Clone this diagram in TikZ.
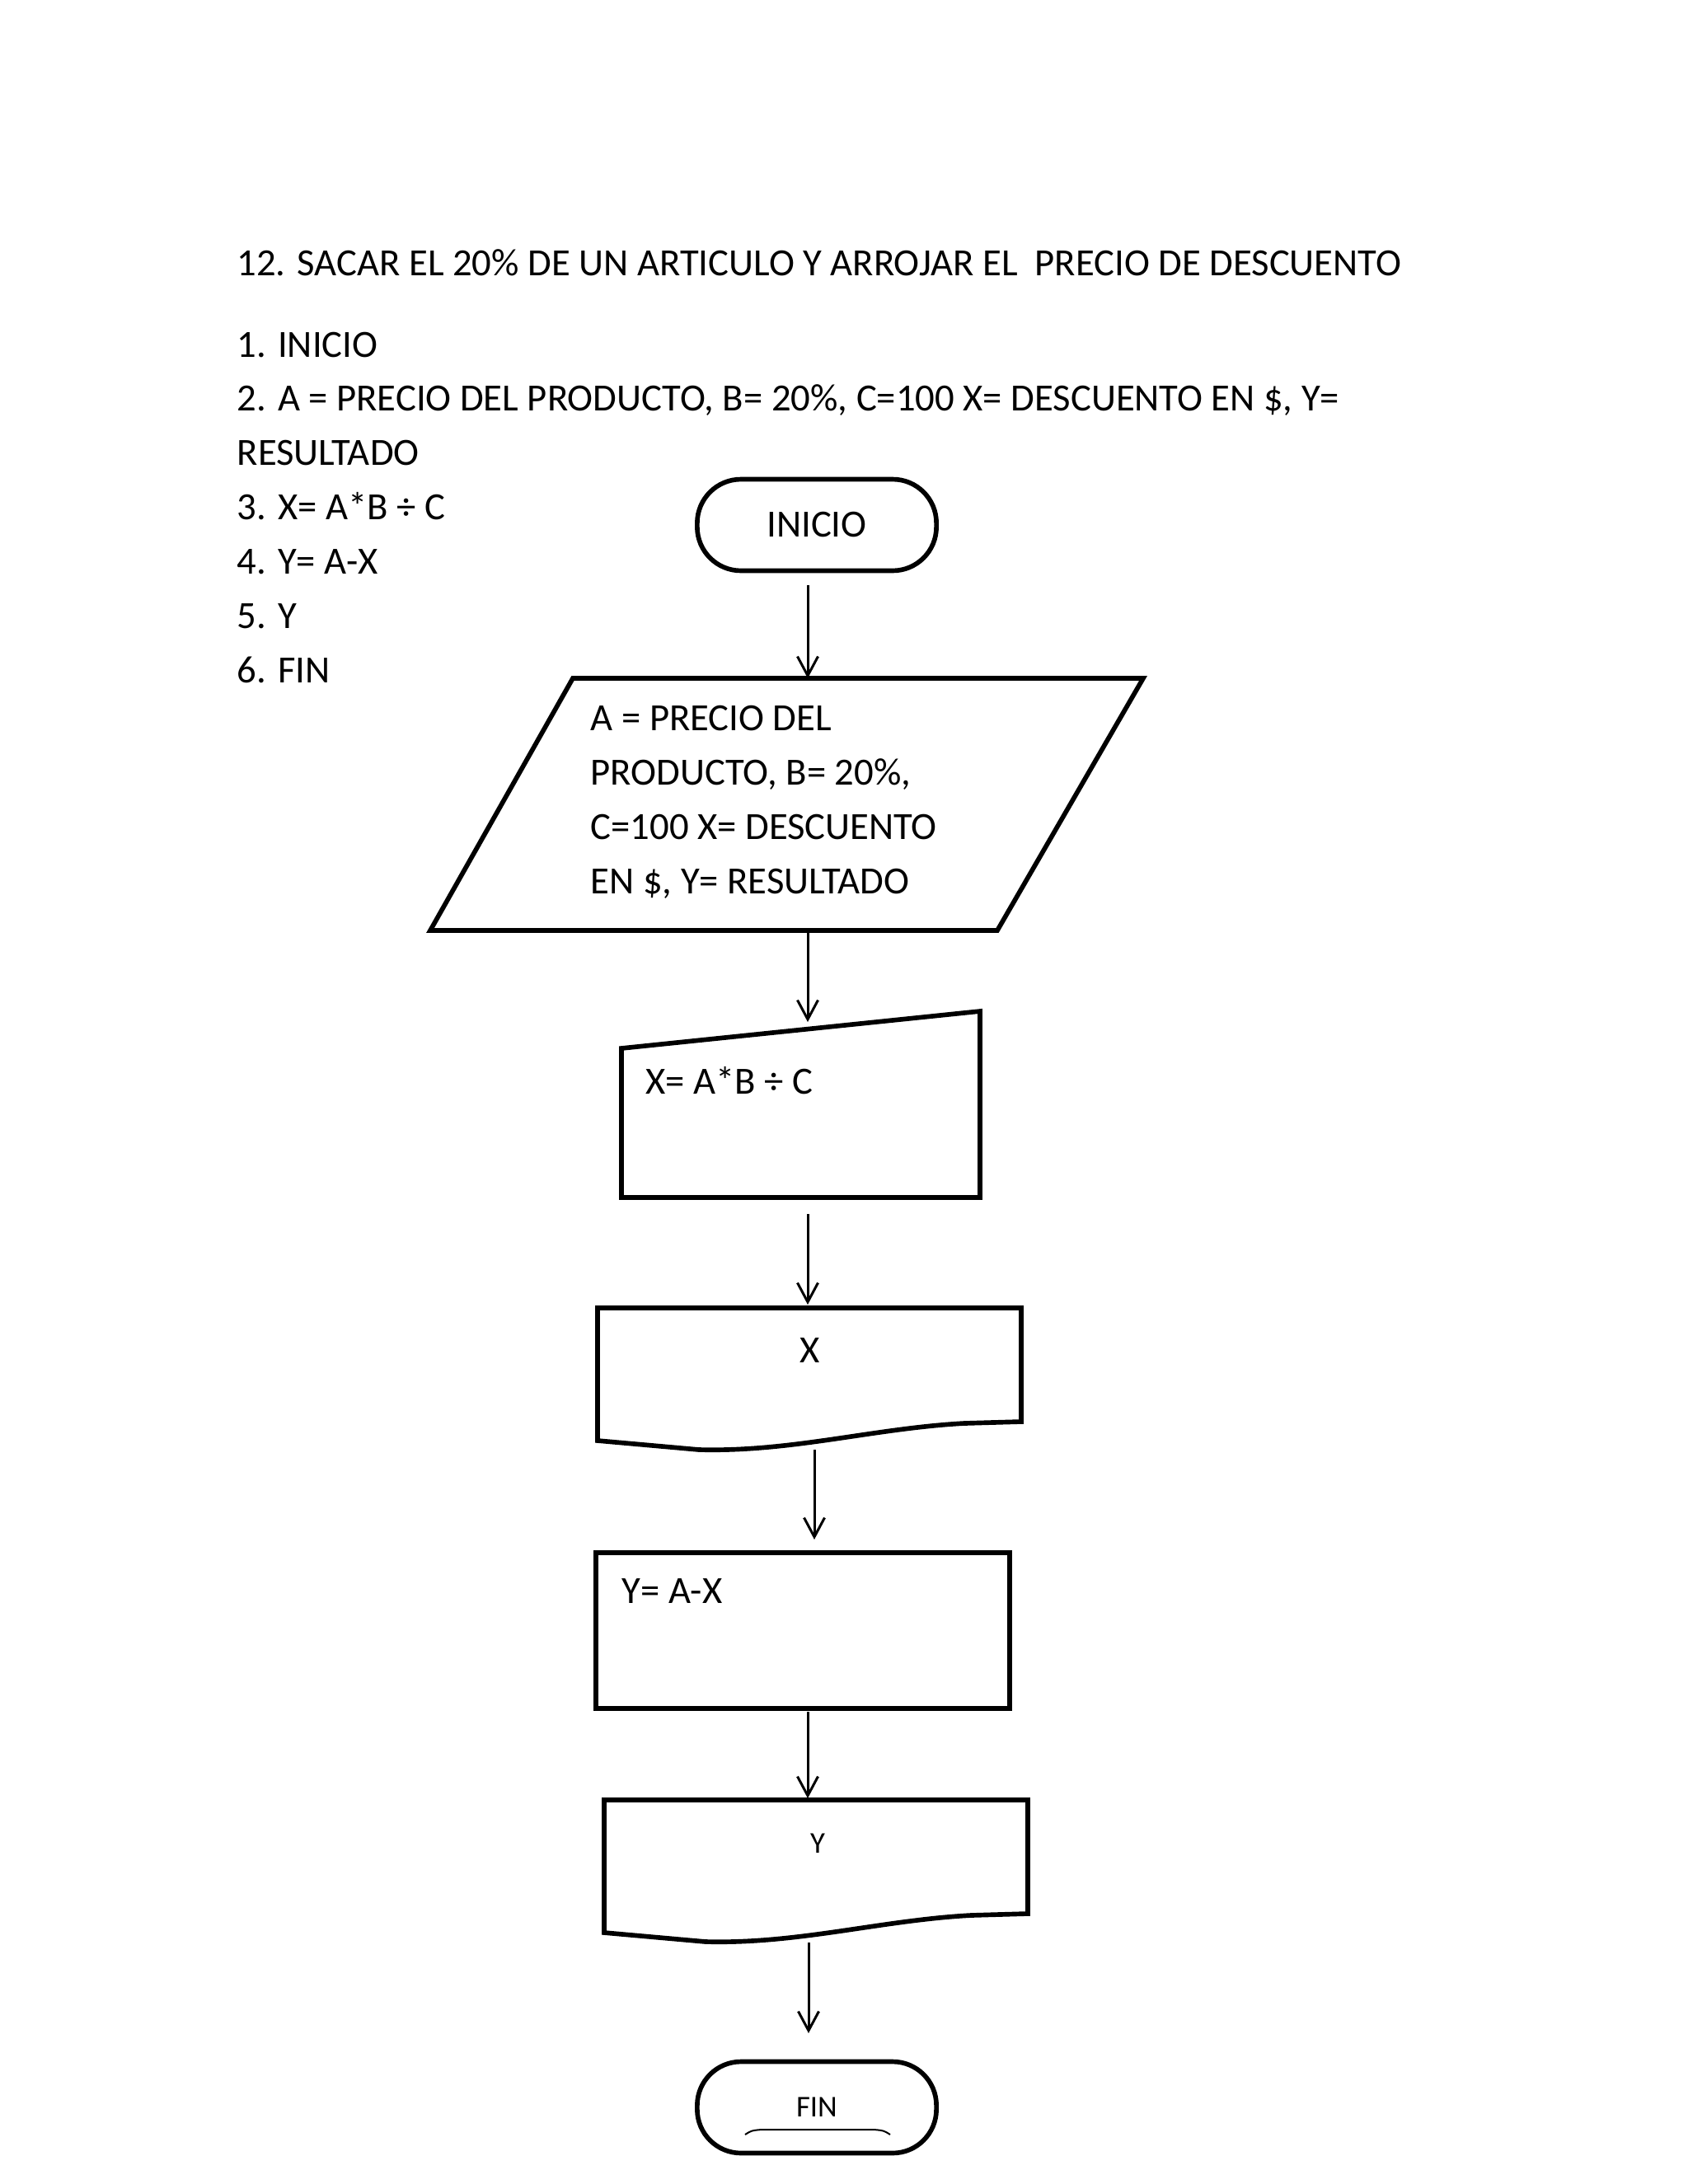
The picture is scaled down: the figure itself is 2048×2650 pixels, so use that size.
\documentclass[tikz,border=0pt]{standalone}
\usepackage{fontspec}
\setmainfont{Carlito}
\usetikzlibrary{arrows.meta}

\tikzset{
  borde/.style={draw, line width=1.7pt, line join=miter},
  flecha/.style={-{Straight Barb[length=7pt,width=7.5pt]}, line width=0.9pt},
  terminal/.style={draw, line width=1.7pt, rounded corners=0.56cm,
    minimum width=3.06cm, minimum height=1.17cm, font=\fontsize{14}{17}\selectfont},
  texto/.style={anchor=base west, inner sep=0pt, font=\fontsize{14}{17}\selectfont},
  centro/.style={anchor=base, inner sep=0pt},
  documento/.pic={
    \draw[borde] (0,0) -- (514,0) -- (514,138) -- (445,140)
      .. controls (335,146) and (235,175) .. (123,172) -- (0,161) -- cycle;
  }
}

\begin{document}
\begin{tikzpicture}[x=0.010542cm, y=-0.010542cm]
\useasboundingbox (0,0) rectangle (2048,2650);

% enunciado y pasos
\node[texto] (titulo) at (287,334) {12. SACAR EL 20\% DE UN ARTICULO Y ARROJAR EL\ \ PRECIO DE DESCUENTO};
\foreach \linea [count=\i from 0] in {{1. INICIO},
    {2. A = PRECIO DEL PRODUCTO, B= 20\%, C=100 X= DESCUENTO EN \$, Y=},
    {RESULTADO}, {3. X= A*B ÷ C}, {4. Y= A-X}, {5. Y}, {6. FIN}}
  \node[texto] (paso\i) at (287,{433+65.9*\i}) {\linea};

% diagrama
\node[terminal] (inicio) at (991,637) {INICIO};

\draw[borde] (695,823) -- (1387,823) -- (1210,1129) -- (522,1129) -- cycle;
\foreach \linea [count=\i from 0] in {{A = PRECIO DEL}, {PRODUCTO, B= 20\%,},
    {C=100 X= DESCUENTO}, {EN \$, Y= RESULTADO}}
  \node[texto] (dato\i) at (716,{886+66.3*\i}) {\linea};

\draw[borde] (754,1272) -- (1189,1227) -- (1189,1453) -- (754,1453) -- cycle;
\node[texto] (calculo) at (783,1327) {X= A*B ÷ C};

\pic at (725,1587) {documento};
\node[centro, font=\fontsize{14}{17}\selectfont] (salidax) at (983,1653) {X};

\draw[borde] (723,1884) rectangle (1225,2073);
\node[texto] (resta) at (754,1945) {Y= A-X};

\pic at (733,2184) {documento};
\node[centro, font=\fontsize{11}{13}\selectfont] (saliday) at (992,2248) {Y};

\node[terminal, font=\fontsize{11}{13}\selectfont] (fin) at (991,2557) {FIN};
\draw[line width=0.6pt] (904,2590) .. controls (912,2585) .. (924,2584) -- (1060,2584)
  .. controls (1072,2585) .. (1080,2590);

% flechas
\coordinate (a1) at (980,710);  \coordinate (b1) at (980,823);
\coordinate (a2) at (980,1129); \coordinate (b2) at (980,1240);
\coordinate (a3) at (980,1473); \coordinate (b3) at (980,1583);
\coordinate (a4) at (988,1759); \coordinate (b4) at (988,1868);
\coordinate (a5) at (980,2077); \coordinate (b5) at (980,2182);
\coordinate (a6) at (981,2357); \coordinate (b6) at (981,2467);
\foreach \i in {1,...,6}
  \draw[flecha] (a\i) -- (b\i);
\end{tikzpicture}
\end{document}
